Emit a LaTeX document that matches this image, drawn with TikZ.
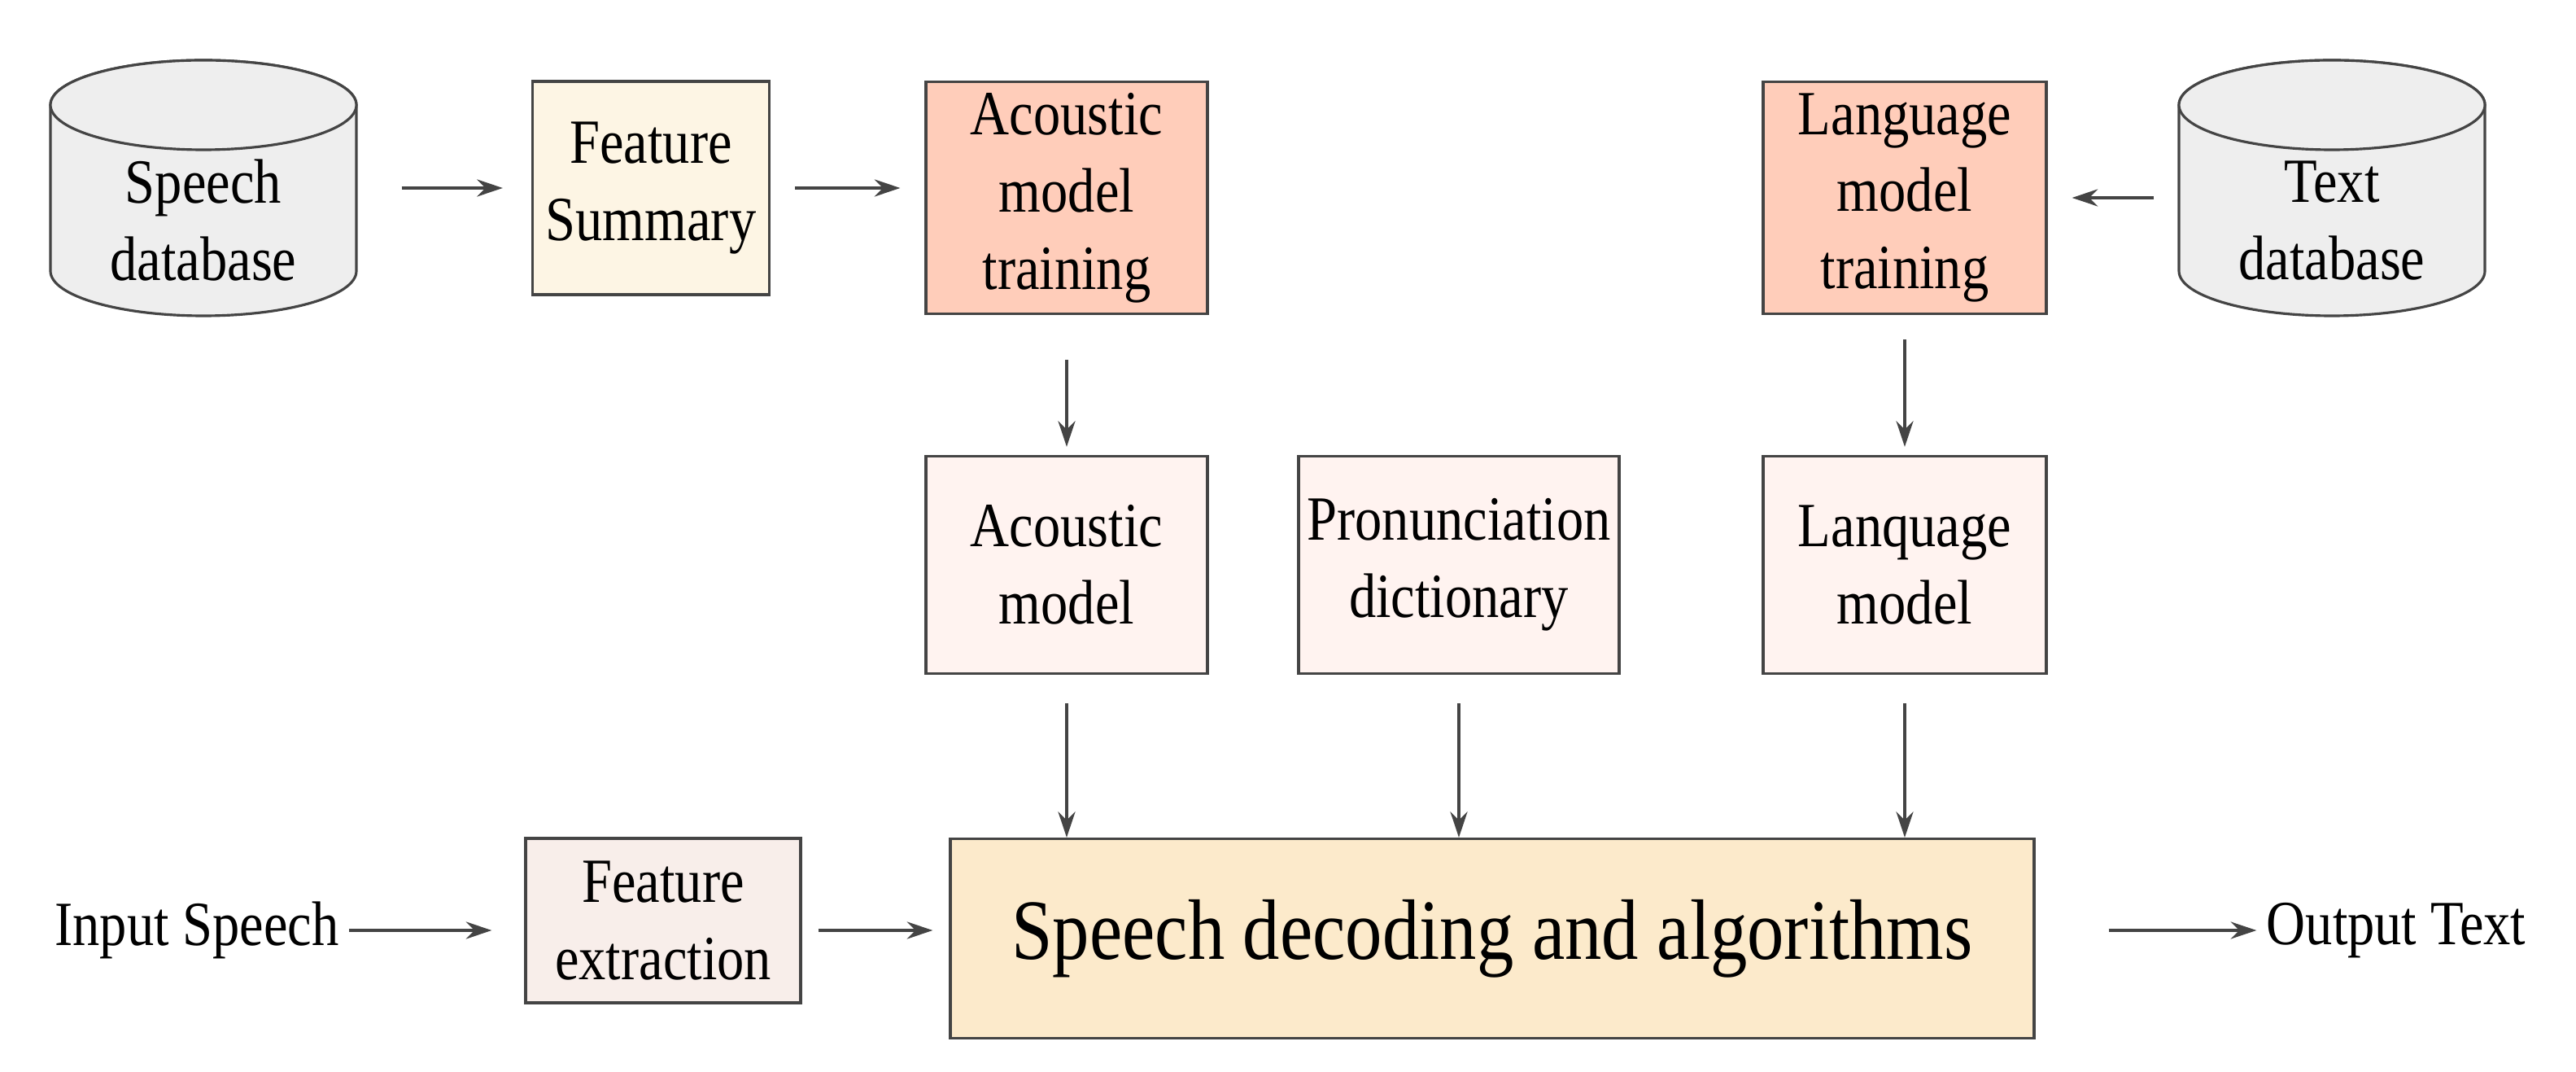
\documentclass[tikz,border=0pt]{standalone}
\usepackage{fontspec}
\setmainfont{Liberation Serif}[FakeStretch=0.86]
\usetikzlibrary{arrows.meta}
\definecolor{edge}{HTML}{444444}
\definecolor{dbfill}{HTML}{EEEEEE}
\definecolor{sumfill}{HTML}{FDF5E4}
\definecolor{trainfill}{HTML}{FFCDBA}
\definecolor{modfill}{HTML}{FFF3F0}
\definecolor{extfill}{HTML}{F8EEEA}
\definecolor{decfill}{HTML}{FCEACB}
\tikzset{
  box/.style={draw=edge, line width=0.9pt, align=center, font=\fontsize{22}{27}\selectfont, inner sep=0pt},
  lbl/.style={align=center, font=\fontsize{22}{27}\selectfont},
  arr/.style={draw=edge, line width=0.9pt, -{Stealth[length=9pt,width=6pt]}},
  db/.style={draw=edge, line width=0.9pt, fill=dbfill}
}
% cylinder: #1 centre x, #2 name, #3 text
\newcommand{\dbcyl}[3]{%
  \draw[db] (#1-1.88,11.87) -- (#1-1.88,9.83) arc[start angle=180,end angle=360,x radius=1.88,y radius=0.55]
    -- (#1+1.88,11.87) arc[start angle=0,end angle=180,x radius=1.88,y radius=0.55];
  \draw[db] (#1,11.87) ellipse[x radius=1.88,y radius=0.55];
  \node[lbl, minimum width=3.76cm, minimum height=2.0cm] (#2) at (#1,10.45) {#3};
}
\begin{document}
\begin{tikzpicture}
\useasboundingbox (0,0) rectangle (31.66,13.16);
% top row (1 cm = 100 px of the reference)
\dbcyl{2.50}{sdb}{Speech\\database}
\dbcyl{28.66}{tdb}{Text\\database}
\node[box, fill=sumfill, minimum width=2.91cm, minimum height=2.62cm] (fs) at (8.00,10.85) {Feature\\Summary};
\node[box, fill=trainfill, minimum width=3.46cm, minimum height=2.85cm] (amt) at (13.11,10.73) {Acoustic\\model\\training};
\node[box, fill=trainfill, minimum width=3.48cm, minimum height=2.85cm] (lmt) at (23.41,10.73) {Language\\model\\training};
% middle row
\node[box, fill=modfill, minimum width=3.46cm, minimum height=2.67cm] (am) at (13.11,6.22) {Acoustic\\model};
\node[box, fill=modfill, minimum width=3.94cm, minimum height=2.67cm] (pd) at (17.93,6.22) {Pronunciation\\dictionary};
\node[box, fill=modfill, minimum width=3.48cm, minimum height=2.67cm] (lm) at (23.41,6.22) {Lanquage\\model};
% bottom row
\node[lbl] (in) at (2.42,1.73) {Input Speech};
\node[box, fill=extfill, minimum width=3.38cm, minimum height=2.02cm] (fe) at (8.15,1.85) {Feature\\extraction};
\node[box, fill=decfill, minimum width=13.32cm, minimum height=2.45cm, font=\fontsize{30}{36}\selectfont] (dec) at (18.34,1.63) {Speech decoding and algorithms};
\node[lbl] (out) at (29.45,1.73) {Output Text};
% connectors
\draw[arr] ([xshift=0.55cm]sdb.east |- fs.west) -- ([xshift=-0.35cm]fs.west);
\draw[arr] ([xshift=0.3cm]fs.east) -- ([xshift=-0.3cm]amt.west |- fs.east);
\draw[arr] ([xshift=-0.3cm]tdb.west |- lmt.east) -- ([xshift=0.3cm]lmt.east);
\draw[arr] ([yshift=-0.55cm]amt.south) -- ([yshift=0.1cm]am.north);
\draw[arr] ([yshift=-0.3cm]lmt.south) -- ([yshift=0.1cm]lm.north);
\draw[arr] ([yshift=-0.35cm]am.south) -- (dec.north -| am.south);
\draw[arr] ([yshift=-0.35cm]pd.south) -- (dec.north -| pd.south);
\draw[arr] ([yshift=-0.35cm]lm.south) -- (dec.north -| lm.south);
\draw[arr] (in.east) -- ([xshift=-0.4cm]fe.west |- in.east);
\draw[arr] ([xshift=0.2cm]fe.east |- in.east) -- ([xshift=-0.2cm]dec.west |- in.east);
\draw[arr] ([xshift=0.9cm]dec.east |- out.west) -- (out.west);
\end{tikzpicture}
\end{document}
